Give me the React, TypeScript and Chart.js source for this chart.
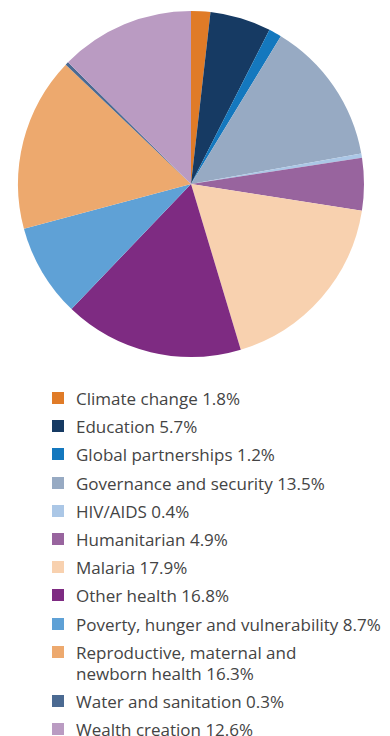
import React, { useEffect, useRef } from "react";
import { Chart, registerables } from "chart.js";

Chart.register(...registerables);

const categories: string[] = [
  "Climate change",
  "Education",
  "Global partnerships",
  "Governance and security",
  "HIV/AIDS",
  "Humanitarian",
  "Malaria",
  "Other health",
  "Poverty, hunger and vulnerability",
  "Reproductive, maternal and\nnewborn health",
  "Water and sanitation",
  "Wealth creation",
];

const shares: number[] = [1.8, 5.7, 1.2, 13.5, 0.4, 4.9, 17.9, 16.8, 8.7, 16.3, 0.3, 12.6];

const colors: string[] = [
  "#E07B27",
  "#163A63",
  "#1478BE",
  "#97AAC3",
  "#ABC7E6",
  "#98649E",
  "#F8D1AF",
  "#7E2B82",
  "#5FA1D6",
  "#EDA96E",
  "#4B6A92",
  "#BA9BC2",
];

const FONT = "'Open Sans', 'Noto Sans', sans-serif";

export default function App() {
  const canvasRef = useRef<HTMLCanvasElement | null>(null);

  useEffect(() => {
    if (!canvasRef.current) return;
    const chart = new Chart(canvasRef.current, {
      type: "pie",
      data: {
        labels: categories.map((c) => c.replace("\n", " ")),
        datasets: [
          {
            data: shares,
            backgroundColor: colors,
            borderWidth: 0,
          },
        ],
      },
      options: {
        responsive: false,
        animation: false,
        layout: { padding: 3 },
        plugins: {
          legend: { display: false },
          tooltip: { enabled: false },
        },
      },
    });
    return () => chart.destroy();
  }, []);

  return (
    <div style={{ fontFamily: FONT }}>
      <canvas ref={canvasRef} width={366} height={352} style={{ display: "block" }} />
      <div style={{ marginTop: 28, paddingLeft: 44 }}>
        {categories.map((c, i) => (
          <div
            key={i}
            style={{
              display: "flex",
              alignItems: "flex-start",
              marginBottom: 7.2,
              lineHeight: "21px",
            }}
          >
            <span
              style={{
                display: "inline-block",
                width: 12,
                height: 12,
                marginTop: 4,
                marginRight: 12,
                background: colors[i],
                flex: "0 0 auto",
              }}
            />
            <span
              style={{
                fontSize: 17,
                fontWeight: 400,
                color: "#444444",
                whiteSpace: "pre",
              }}
            >
              {c} {shares[i].toFixed(1)}%
            </span>
          </div>
        ))}
      </div>
    </div>
  );
}
